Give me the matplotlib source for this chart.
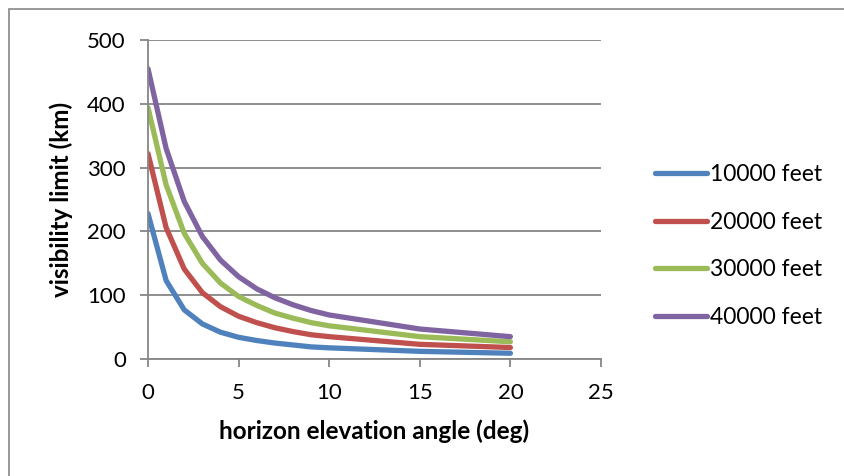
import matplotlib
matplotlib.use("Agg")
import matplotlib.pyplot as plt
from matplotlib.patches import Rectangle

angles = [0, 1, 2, 3, 4, 5, 6, 7, 8, 9, 10, 15, 20]
vis_10000 = [228, 123, 77, 55, 42, 34, 29, 25, 22, 19, 17.5, 12, 9]
vis_20000 = [322, 206, 141, 104, 82, 67, 57, 49, 43, 38, 35, 23, 18]
vis_30000 = [394, 273, 197, 150, 119, 98, 84, 72, 64, 57, 52, 35, 27]
vis_40000 = [455, 330, 247, 192, 155, 129, 110, 96, 85, 76, 69, 47, 35]
series_labels = ["10000 feet", "20000 feet", "30000 feet", "40000 feet"]
series_colors = ["#4F81BD", "#C0504D", "#9BBB59", "#8064A2"]

plt.rcParams['font.family'] = ['Lato', 'DejaVu Sans']

fig = plt.figure(figsize=(8.45, 4.76), dpi=100)
fig.patches.append(Rectangle((9/845, -0.1), 1.2, 1 - 9/476 + 0.1, transform=fig.transFigure,
                             fill=False, edgecolor="#868686", linewidth=1.2))
ax = fig.add_axes([148/845, 1 - 359/476, (601-148)/845, (359-40)/476])

for vals, lab, col in zip([vis_10000, vis_20000, vis_30000, vis_40000], series_labels, series_colors):
    ax.plot(angles, vals, color=col, linewidth=3.8, label=lab, solid_capstyle='round', solid_joinstyle='round')

ax.set_xlim(0, 25)
ax.set_ylim(0, 500)
ax.set_xticks(range(0, 26, 5))
ax.set_yticks(range(0, 501, 100))
ax.yaxis.grid(True, color="#868686", linewidth=1.3)
ax.set_axisbelow(True)
for s in ["top", "right"]:
    ax.spines[s].set_visible(False)
for s in ["left", "bottom"]:
    ax.spines[s].set_color("#868686")
    ax.spines[s].set_linewidth(1.3)
ax.tick_params(axis='x', direction='out', length=6, width=1.3, color="#868686", labelsize=16, pad=11)
ax.tick_params(axis='y', direction='out', length=6, width=1.3, color="#868686", labelsize=16, pad=10)
ax.set_xlabel("horizon elevation angle (deg)", fontsize=17.5, fontweight='bold', labelpad=12)
ax.set_ylabel("visibility limit (km)", fontsize=17.5, fontweight='bold', labelpad=10)

leg = fig.legend(loc='center left', bbox_to_anchor=(655/845, 1 - 246/476), frameon=False,
                 fontsize=16.5, handlelength=2.25, handletextpad=0.15, labelspacing=1.17,
                 borderpad=0, borderaxespad=0)

fig.savefig("out.png", dpi=100)
